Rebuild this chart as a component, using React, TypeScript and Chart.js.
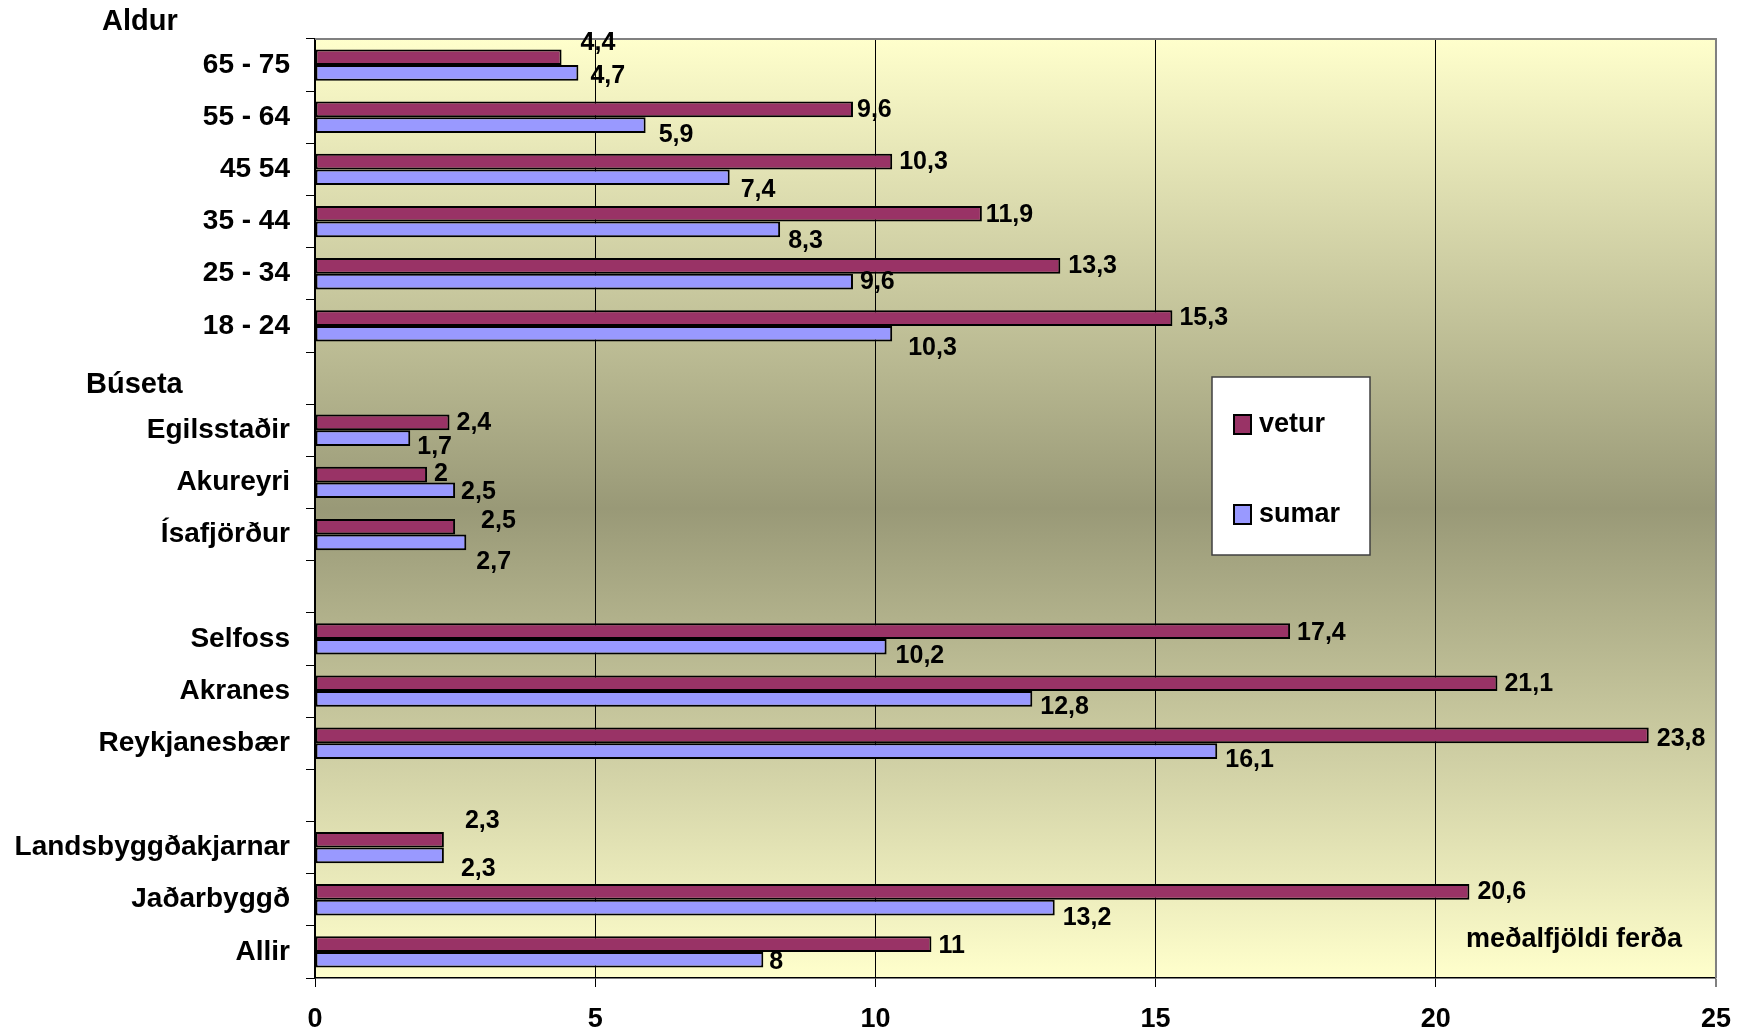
import React, { useEffect, useRef } from "react";
import { Chart, registerables } from "chart.js";

Chart.register(...registerables);

// ---- data ----
const categories = [
  "65 - 75", "55 - 64", "45 54", "35 - 44", "25 - 34", "18 - 24",
  "",
  "Egilsstaðir", "Akureyri", "Ísafjörður",
  "",
  "Selfoss", "Akranes", "Reykjanesbær",
  "",
  "Landsbyggðakjarnar", "Jaðarbyggð", "Allir",
];
const vetur = [4.4, 9.6, 10.3, 11.9, 13.3, 15.3, null, 2.4, 2, 2.5, null, 17.4, 21.1, 23.8, null, 2.3, 20.6, 11];
const sumar = [4.7, 5.9, 7.4, 8.3, 9.6, 10.3, null, 1.7, 2.5, 2.7, null, 10.2, 12.8, 16.1, null, 2.3, 13.2, 8];
const seriesNames = ["vetur", "sumar"];
const groupHeaders = ["Aldur", "Búseta"];
const axisNote = "meðalfjöldi ferða";
const xTicks = { min: 0, max: 25, step: 5 };

// ---- styling (label nudges in px, per category index) ----
const veturNudge: [number, number][] = [
  [19, -14], [4, 1], [7, 1], [4, 1], [8, 0], [7, 0], [0, 0], [7, 1], [7, 0], [26, -6],
  [0, 0], [7, 2], [7, 1], [8, 4], [0, 0], [21, -19], [8, 0], [7, 2],
];
const sumarNudge: [number, number][] = [
  [12, 3], [13, 10], [11, 13], [8, 12], [7, 1], [16, 14], [0, 0], [7, 9], [6, 2], [10, 20],
  [0, 0], [9, 9], [8, 8], [8, 9], [0, 0], [17, 14], [8, 11], [6, 2],
];

const FONT = "'Liberation Sans', Arial, sans-serif";
const VETUR_COLOR = "#993366";
const SUMAR_COLOR = "#9999FF";

const fmt = (v: number) => String(v).replace(".", ",");

const decorPlugin = {
  id: "decor",
  beforeDraw(chart: any) {
    const { ctx, chartArea: a } = chart;
    const g = ctx.createLinearGradient(0, a.top, 0, a.bottom);
    g.addColorStop(0, "#FFFFCC");
    g.addColorStop(0.5, "#999977");
    g.addColorStop(1, "#FFFFCC");
    ctx.save();
    ctx.fillStyle = g;
    ctx.fillRect(a.left, a.top, a.right - a.left, a.bottom - a.top);
    ctx.restore();
  },
  afterDraw(chart: any) {
    const { ctx, chartArea: a } = chart;
    ctx.save();
    // top and right border
    ctx.strokeStyle = "#808080";
    ctx.lineWidth = 2;
    ctx.beginPath();
    ctx.moveTo(a.left, a.top);
    ctx.lineTo(a.right, a.top);
    ctx.lineTo(a.right, a.bottom);
    ctx.stroke();

    // data labels
    ctx.fillStyle = "#000";
    ctx.font = `bold 25px ${FONT}`;
    ctx.textAlign = "left";
    ctx.textBaseline = "middle";
    const nudges = [veturNudge, sumarNudge];
    chart.data.datasets.forEach((ds: any, di: number) => {
      const meta = chart.getDatasetMeta(di);
      meta.data.forEach((el: any, i: number) => {
        const v = ds.data[i];
        if (v === null || v === undefined) return;
        const [dx, dy] = nudges[di][i];
        ctx.fillText(fmt(v), el.x + dx, el.y + dy);
      });
    });

    // group headers
    ctx.font = `bold 29px ${FONT}`;
    ctx.fillText(groupHeaders[0], 102, 22);
    const yScale = chart.scales.y;
    ctx.fillText(groupHeaders[1], 86, yScale.getPixelForValue(6) + 7);

    // axis note
    ctx.font = `bold 27px ${FONT}`;
    ctx.fillText(axisNote, 1466, 940);

    // legend
    const lx = 1212, ly = 377, lw = 158, lh = 178;
    ctx.fillStyle = "#FFFFFF";
    ctx.fillRect(lx, ly, lw, lh);
    ctx.strokeStyle = "#404040";
    ctx.lineWidth = 1.5;
    ctx.strokeRect(lx, ly, lw, lh);
    const items = [
      { name: seriesNames[0], color: VETUR_COLOR, y: 424 },
      { name: seriesNames[1], color: SUMAR_COLOR, y: 514 },
    ];
    items.forEach((it) => {
      ctx.fillStyle = it.color;
      ctx.fillRect(1234, it.y - 9, 17, 19);
      ctx.strokeStyle = "#000";
      ctx.lineWidth = 2;
      ctx.strokeRect(1234, it.y - 9, 17, 19);
      ctx.fillStyle = "#000";
      ctx.font = `bold 27px ${FONT}`;
      ctx.fillText(it.name, 1259, it.y + 1);
    });
    ctx.restore();
  },
};

export default function App() {
  const ref = useRef<HTMLCanvasElement | null>(null);
  useEffect(() => {
    document.body.style.margin = "0";
    document.body.style.overflow = "hidden";
    const canvas = ref.current!;
    const chart = new Chart(canvas, {
      type: "bar",
      data: {
        labels: categories,
        datasets: [
          {
            label: seriesNames[0],
            data: vetur,
            backgroundColor: VETUR_COLOR,
            borderColor: "#000",
            borderWidth: 2,
            borderSkipped: false,
            categoryPercentage: 0.6,
            barPercentage: 1.0,
          },
          {
            label: seriesNames[1],
            data: sumar,
            backgroundColor: SUMAR_COLOR,
            borderColor: "#000",
            borderWidth: 2,
            borderSkipped: false,
            categoryPercentage: 0.6,
            barPercentage: 1.0,
          },
        ],
      },
      options: {
        indexAxis: "y",
        responsive: false,
        animation: false,
        devicePixelRatio: 1,
        layout: { padding: { top: 39, right: 30, left: 0, bottom: 0 } },
        plugins: { legend: { display: false }, tooltip: { enabled: false } },
        scales: {
          x: {
            type: "linear",
            min: xTicks.min,
            max: xTicks.max,
            ticks: {
              stepSize: xTicks.step,
              color: "#000",
              font: { family: FONT, size: 27, weight: "bold" },
              padding: 16,
              maxRotation: 0,
            },
            grid: {
              color: (c: any) => (c.tick && c.tick.value === xTicks.max ? "#808080" : "#000"),
              lineWidth: (c: any) => (c.tick && c.tick.value === xTicks.max ? 2 : 1),
              tickLength: 9,
              drawTicks: true,
            },
            border: { color: "#000", width: 1.5 },
            afterFit: (s: any) => {
              s.height = 56;
            },
          },
          y: {
            type: "category",
            ticks: {
              color: "#000",
              font: { family: FONT, size: 28, weight: "bold" },
              padding: 16,
              autoSkip: false,
            },
            grid: {
              offset: true,
              drawOnChartArea: false,
              drawTicks: true,
              tickLength: 9,
              color: "#000",
            },
            border: { color: "#000", width: 1.5 },
            afterFit: (s: any) => {
              s.width = 315;
            },
          },
        },
      } as any,
      plugins: [decorPlugin],
    });
    return () => chart.destroy();
  }, []);
  return (
    <div style={{ width: 1747, height: 1034, overflow: "hidden", background: "#fff" }}>
      <canvas ref={ref} width={1747} height={1034} style={{ display: "block" }} />
    </div>
  );
}
